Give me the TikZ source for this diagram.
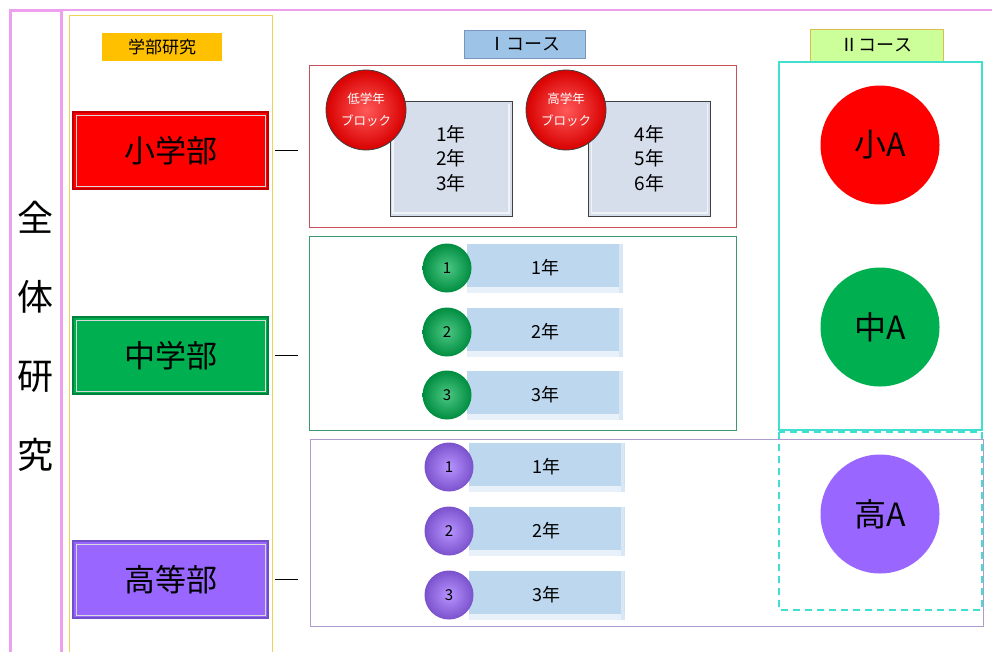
\documentclass[tikz,border=0pt]{standalone}
\usepackage{fontspec}
\setmainfont{Noto Sans CJK JP}
\definecolor{pinkf}{RGB}{238,160,238}
\definecolor{yelf}{RGB}{240,210,90}
\definecolor{goldf}{RGB}{255,192,0}
\definecolor{redb}{RGB}{255,0,0}
\definecolor{redd}{RGB}{192,0,0}
\definecolor{grnb}{RGB}{0,176,80}
\definecolor{grnd}{RGB}{0,130,60}
\definecolor{purb}{RGB}{153,102,255}
\definecolor{purd}{RGB}{112,80,200}
\definecolor{redframe}{RGB}{200,80,90}
\definecolor{grnframe}{RGB}{60,150,110}
\definecolor{purframe}{RGB}{175,155,205}
\definecolor{cyanf}{RGB}{64,224,208}
\definecolor{barblue}{RGB}{189,215,238}
\definecolor{sqfill}{RGB}{214,222,236}
\definecolor{cIfill}{RGB}{157,195,230}
\definecolor{cIdraw}{RGB}{120,150,190}
\definecolor{cIIfill}{RGB}{204,255,153}
\definecolor{cIIdraw}{RGB}{220,190,80}
\begin{document}
\begin{tikzpicture}[x=1pt,y=-1pt,
  deptbox/.style={draw, line width=2pt, minimum width=195pt, minimum height=77pt, inner sep=0pt,
    font=\fontsize{31}{34}\selectfont, text=black},
  labelbox/.style={inner sep=0pt, font=\fontsize{18}{20}\selectfont},
  sqbox/.style={draw=black!75, line width=1pt, fill=sqfill, minimum width=122pt, minimum height=115pt,
    align=center, inner sep=0pt, font=\fontsize{19}{24.5}\selectfont,
    path picture={\draw[white!60!sqfill, line width=1.5pt]
      ([shift={(3pt,-3pt)}]path picture bounding box.north west) --
      ([shift={(3pt,3pt)}]path picture bounding box.south west) --
      ([shift={(-3pt,3pt)}]path picture bounding box.south east) --
      ([shift={(-3pt,-3pt)}]path picture bounding box.north east);}},
  blockball/.style={circle, minimum size=80pt, inner sep=0pt, inner color=white!35!red, outer color=red!85!black,
    draw=black!75, line width=0.8pt, text=white, align=center, font=\fontsize{12.5}{22}\selectfont},
  bar/.style={fill=barblue, minimum width=156pt, minimum height=49pt, inner sep=0pt,
    font=\fontsize{18}{20}\selectfont,
    path picture={\fill[white!65!barblue]
      (path picture bounding box.south west) rectangle ([yshift=6pt]path picture bounding box.south east);
      \fill[white!40!barblue]
      ([xshift=-4pt]path picture bounding box.south east) rectangle (path picture bounding box.north east);}},
  numball/.style={circle, minimum size=49pt, inner sep=0pt, font=\fontsize{15}{16}\selectfont},
  bigcircle/.style={circle, minimum size=119pt, inner sep=0pt, font=\fontsize{32}{36}\selectfont}
]
\useasboundingbox (0,0) rectangle (992,651);
\clip (0,0) rectangle (992,651);

% outer frames
\draw[pinkf, line width=3pt] (10,10) rectangle (61,680);
\draw[pinkf, line width=2.5pt] (61,10) -- (1000,10);
\node[align=center, font=\fontsize{36}{79}\selectfont] (zentai) at (35,336) {全\\体\\研\\究};

% left column
\draw[yelf, line width=1pt] (69,15) rectangle (272,680);
\node[labelbox, fill=goldf, minimum width=120pt, minimum height=28pt, font=\fontsize{17}{20}\selectfont] (gakubu) at (162,47) {学部研究};

\node[deptbox, fill=redb, draw=redd] (sho) at (170.5,150.5) {小学部};
\node[deptbox, fill=grnb, draw=grnd] (chu) at (170.5,355.5) {中学部};
\node[deptbox, fill=purb, draw=purd] (kou) at (170.5,579.5) {高等部};
\foreach \n in {sho,chu,kou}{
  \draw[white!85!black, line width=0.8pt] ([shift={(4pt,-4pt)}]\n.north west) rectangle ([shift={(-4pt,4pt)}]\n.south east);
  \draw[black, line width=0.8pt] ([xshift=6pt]\n.east) -- ([xshift=29pt]\n.east);
}

% course I
\node[labelbox, fill=cIfill, draw=cIdraw, minimum width=121pt, minimum height=28pt] (cI) at (524.5,44) {Ⅰコース};

\draw[redframe, line width=1pt] (309,65) rectangle (736,227);
\node[sqbox] (sqA) at (451,158.5) {1年\\2年\\3年};
\node[sqbox] (sqB) at (649.5,158.5) {4年\\5年\\6年};
\node[blockball] (blA) at (366,110) {低学年\\ブロック};
\node[blockball] (blB) at (566,110) {高学年\\ブロック};

\draw[grnframe, line width=1pt] (309,236) rectangle (736,430);
\foreach \y/\k in {268/1,332/2,395/3}{
  \node[bar] (gbar\k) at (545,\y) {\k 年};
  \node[numball, inner color=white!30!grnb, outer color=grnb!80!black] (gball\k) at (447,\y) {\k};
}

\draw[purframe, line width=1pt] (310,439) rectangle (983,626);
\foreach \y/\k in {467/1,531/2,595/3}{
  \node[bar] (pbar\k) at (546.5,\y) {\k 年};
  \node[numball, inner color=white!30!purb, outer color=purb!80!black] (pball\k) at (449,\y) {\k};
}

% course II
\node[labelbox, fill=cIIfill, draw=cIIdraw, minimum width=133pt, minimum height=33pt] (cII) at (876.5,45.5) {Ⅱコース};
\draw[cyanf, line width=1.2pt] (779,62) rectangle (982,430);
\draw[cyanf, line width=1.8pt, dash pattern=on 7pt off 5pt] (779,432) rectangle (982,610);
\node[bigcircle, fill=redb] (shoA) at (880,145) {小A};
\node[bigcircle, fill=grnb] (chuA) at (880,327) {中A};
\node[bigcircle, fill=purb] (kouA) at (880,514) {高A};
\end{tikzpicture}
\end{document}
